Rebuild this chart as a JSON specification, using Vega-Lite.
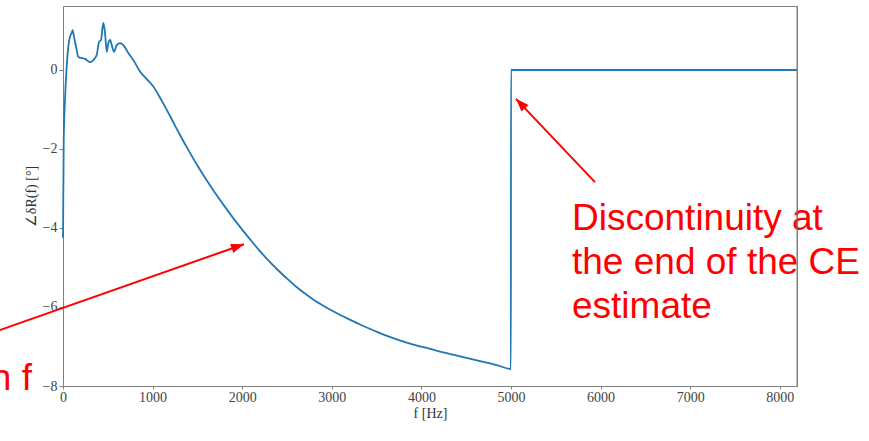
{
  "$schema": "https://vega.github.io/schema/vega-lite/v6.json",
  "width": 734,
  "height": 380,
  "autosize": {"type": "none"},
  "padding": {"left": 63, "top": 6, "right": 72, "bottom": 55},
  "background": "white",
  "config": {
    "view": {"stroke": "#808080", "strokeWidth": 1},
    "axis": {
      "grid": false,
      "labelFlush": false,
      "labelOverlap": false,
      "domainColor": "#808080",
      "tickColor": "#808080",
      "tickSize": 4,
      "labelFont": "Liberation Serif",
      "labelFontSize": 14,
      "labelColor": "#444444",
      "titleFont": "Liberation Serif",
      "titleFontSize": 14,
      "titleFontWeight": "normal",
      "titleColor": "#333333"
    }
  },
  "datasets": {
    "curve": [
      {"f": 0, "v": -4.25}, {"f": 8, "v": -1.8}, {"f": 22, "v": -0.76}, {"f": 41, "v": 0.08},
      {"f": 59, "v": 0.58}, {"f": 78, "v": 0.84}, {"f": 97, "v": 0.94}, {"f": 108, "v": 1.01},
      {"f": 123, "v": 0.84}, {"f": 153, "v": 0.51}, {"f": 171, "v": 0.33}, {"f": 246, "v": 0.28},
      {"f": 301, "v": 0.2}, {"f": 338, "v": 0.25}, {"f": 376, "v": 0.38}, {"f": 402, "v": 0.71},
      {"f": 424, "v": 0.76}, {"f": 450, "v": 1.19}, {"f": 469, "v": 0.94}, {"f": 488, "v": 0.46},
      {"f": 506, "v": 0.68}, {"f": 525, "v": 0.76}, {"f": 544, "v": 0.63}, {"f": 569, "v": 0.46},
      {"f": 599, "v": 0.63}, {"f": 636, "v": 0.68}, {"f": 673, "v": 0.63}, {"f": 729, "v": 0.43},
      {"f": 804, "v": 0.18}, {"f": 859, "v": -0.04}, {"f": 915, "v": -0.18}, {"f": 1008, "v": -0.42},
      {"f": 1100, "v": -0.77}, {"f": 1200, "v": -1.19}, {"f": 1300, "v": -1.62}, {"f": 1400, "v": -2.03},
      {"f": 1500, "v": -2.42}, {"f": 1600, "v": -2.78}, {"f": 1700, "v": -3.12}, {"f": 1800, "v": -3.44},
      {"f": 1900, "v": -3.75}, {"f": 2000, "v": -4.04}, {"f": 2100, "v": -4.32}, {"f": 2200, "v": -4.59},
      {"f": 2300, "v": -4.84}, {"f": 2400, "v": -5.07}, {"f": 2500, "v": -5.28}, {"f": 2600, "v": -5.48},
      {"f": 2700, "v": -5.66}, {"f": 2800, "v": -5.82}, {"f": 2900, "v": -5.96}, {"f": 3000, "v": -6.09},
      {"f": 3100, "v": -6.21}, {"f": 3200, "v": -6.32}, {"f": 3352, "v": -6.48}, {"f": 3538, "v": -6.66},
      {"f": 3724, "v": -6.82}, {"f": 3910, "v": -6.95}, {"f": 4096, "v": -7.06}, {"f": 4282, "v": -7.17},
      {"f": 4468, "v": -7.27}, {"f": 4654, "v": -7.37}, {"f": 4840, "v": -7.47}, {"f": 4999, "v": -7.57},
      {"f": 5000, "v": 0}, {"f": 8192, "v": 0}
    ],
    "labels": [
      {"f": 5681, "v": -4.05, "text": "Discontinuity at"},
      {"f": 5681, "v": -5.16, "text": "the end of the CE"},
      {"f": 5681, "v": -6.28, "text": "estimate"}
    ],
    "leftlabel": [
      {"f": -346, "v": -8.1, "text": "n f"}
    ],
    "arrows": [
      {"f": -926, "v": -6.76, "f2": 2020, "v2": -4.41},
      {"f": 5937, "v": -2.84, "f2": 5056, "v2": -0.73}
    ],
    "head1": [{"f": 2020, "v": -4.41}],
    "head2": [{"f": 5056, "v": -0.73}],
    "frame": [{"f": 8192}]
  },
  "layer": [
    {
      "data": {"name": "curve"},
      "mark": {"type": "line", "color": "#1f77b4", "strokeWidth": 1.8, "interpolate": "monotone"},
      "encoding": {
        "x": {
          "field": "f", "type": "quantitative",
          "scale": {"domain": [0, 8192], "nice": false, "zero": false},
          "axis": {"values": [0, 1000, 2000, 3000, 4000, 5000, 6000, 7000, 8000], "title": "f [Hz]", "tickSize": 3, "labelPadding": 1, "titlePadding": 2, "format": "d"}
        },
        "y": {
          "field": "v", "type": "quantitative",
          "scale": {"domain": [-8, 1.62], "nice": false, "zero": false},
          "axis": {"values": [-8, -6, -4, -2, 0], "title": "∠δR(f) [°]", "labelPadding": 2, "titlePadding": 4, "format": "d"}
        }
      }
    },
    {
      "data": {"name": "labels"},
      "mark": {"type": "text", "color": "#ff0000", "font": "Liberation Sans", "fontSize": 37, "align": "left", "baseline": "alphabetic"},
      "encoding": {
        "x": {"field": "f", "type": "quantitative"},
        "y": {"field": "v", "type": "quantitative"},
        "text": {"field": "text"}
      }
    },
    {
      "data": {"name": "leftlabel"},
      "mark": {"type": "text", "color": "#ff0000", "font": "Liberation Sans", "fontSize": 37, "align": "right", "baseline": "alphabetic"},
      "encoding": {
        "x": {"field": "f", "type": "quantitative"},
        "y": {"field": "v", "type": "quantitative"},
        "text": {"field": "text"}
      }
    },
    {
      "data": {"name": "arrows"},
      "mark": {"type": "rule", "color": "#ff0000", "strokeWidth": 2},
      "encoding": {
        "x": {"field": "f", "type": "quantitative"},
        "y": {"field": "v", "type": "quantitative"},
        "x2": {"field": "f2"},
        "y2": {"field": "v2"}
      }
    },
    {
      "data": {"name": "head1"},
      "mark": {"type": "point", "shape": "M0,0L-0.75,2L0.75,2Z", "filled": true, "color": "#ff0000", "opacity": 1, "size": 169, "angle": 70.6, "strokeWidth": 0},
      "encoding": {
        "x": {"field": "f", "type": "quantitative"},
        "y": {"field": "v", "type": "quantitative"}
      }
    },
    {
      "data": {"name": "head2"},
      "mark": {"type": "point", "shape": "M0,0L-0.75,2L0.75,2Z", "filled": true, "color": "#ff0000", "opacity": 1, "size": 169, "angle": -43.6, "strokeWidth": 0},
      "encoding": {
        "x": {"field": "f", "type": "quantitative"},
        "y": {"field": "v", "type": "quantitative"}
      }
    },
    {
      "data": {"name": "frame"},
      "mark": {"type": "rule", "color": "#808080", "strokeWidth": 1},
      "encoding": {
        "x": {"field": "f", "type": "quantitative"}
      }
    }
  ]
}
